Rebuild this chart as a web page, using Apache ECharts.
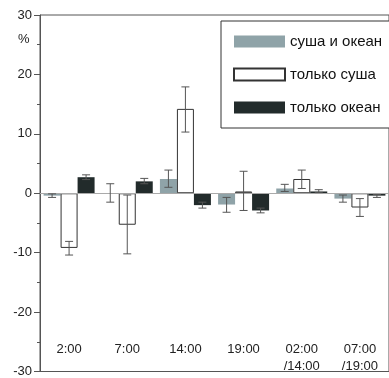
<!DOCTYPE html>
<html>
<head>
    <meta charset="utf-8">
    <title>ECharts</title>
    <style>
        body { margin: 0; background: #fff; }
    </style>
</head>
<body>
<div id="main" style="width: 389px;height:378px;"></div>
<script src="https://cdn.jsdelivr.net/npm/echarts@6/dist/echarts.min.js"></script>
<script type="text/javascript">
    // подписи по оси X
    var categories = ['2:00', '7:00', '14:00', '19:00', '02:00\n/14:00', '07:00\n/19:00'];
    var seriesNames = ['суша и океан', 'только суша', 'только океан'];

    // значения столбцов, %
    var landOcean = [-0.4, 0.0, 2.4, -1.9, 0.8, -0.9];
    var landOnly = [-9.2, -5.3, 14.2, 0.3, 2.4, -2.4];
    var oceanOnly = [2.7, 2.0, -2.0, -2.9, 0.3, -0.4];

    // границы погрешностей (низ / верх)
    var landOceanLow = [-0.7, -1.5, 1.0, -3.2, 0.3, -1.5];
    var landOceanHigh = [-0.1, 1.6, 3.9, -0.7, 1.5, -0.3];
    var landOnlyLow = [-10.4, -10.2, 10.3, -2.9, 0.8, -3.9];
    var landOnlyHigh = [-8.1, -0.3, 17.9, 3.7, 3.9, -0.9];
    var oceanOnlyLow = [2.3, 1.6, -2.5, -3.3, 0.1, -0.7];
    var oceanOnlyHigh = [3.1, 2.5, -1.5, -2.5, 0.6, -0.2];

    var barW = 17;
    var errColor = '#555';

    function errorSeries(lo, hi, offset) {
        return {
            type: 'custom',
            z: 10,
            silent: true,
            encode: {x: 0, y: [1, 2]},
            data: lo.map(function (v, i) { return [i, v, hi[i]]; }),
            renderItem: function (params, api) {
                var x = api.coord([api.value(0), 0])[0] + offset * barW;
                var yLo = api.coord([api.value(0), api.value(1)])[1];
                var yHi = api.coord([api.value(0), api.value(2)])[1];
                var c = 4;
                var st = {stroke: errColor, lineWidth: 1};
                return {
                    type: 'group',
                    children: [
                        {type: 'line', shape: {x1: x, y1: yHi, x2: x, y2: yLo}, style: st},
                        {type: 'line', shape: {x1: x - c, y1: yHi, x2: x + c, y2: yHi}, style: st},
                        {type: 'line', shape: {x1: x - c, y1: yLo, x2: x + c, y2: yLo}, style: st}
                    ]
                };
            }
        };
    }

    var myChart = echarts.init(document.getElementById('main'));
    myChart.setOption({
        animation: false,
        textStyle: {fontFamily: 'Liberation Sans, Arial, sans-serif'},
        grid: {
            left: 40, top: 15, bottom: 4, right: -11,
            show: true, borderColor: '#555', borderWidth: 1
        },
        graphic: [{
            type: 'text', left: 18, top: 33,
            style: {text: '%', font: '13px Liberation Sans, Arial', fill: '#222'}
        }],
        legend: {
            data: seriesNames,
            orient: 'vertical',
            left: 221, top: 21,
            icon: 'rect',
            itemWidth: 51, itemHeight: 12, itemGap: 18,
            padding: [13, 60, 13, 12],
            borderColor: '#333', borderWidth: 1,
            backgroundColor: '#fff',
            textStyle: {fontSize: 15, color: '#111'}
        },
        xAxis: {
            type: 'category',
            data: categories,
            axisLine: {show: false},
            axisTick: {show: false},
            axisLabel: {
                margin: -31,
                verticalAlign: 'top',
                fontSize: 13, lineHeight: 17, color: '#222'
            }
        },
        yAxis: {
            type: 'value',
            min: -30, max: 30, interval: 10,
            axisLine: {show: true, lineStyle: {color: '#555'}},
            axisTick: {show: true, length: 6, lineStyle: {color: '#555'}},
            minorTick: {show: true, splitNumber: 2, length: 3, lineStyle: {color: '#555'}},
            splitLine: {show: false},
            axisLabel: {fontSize: 13, color: '#222', margin: 8}
        },
        series: [
            {
                name: seriesNames[0], type: 'bar', data: landOcean,
                barWidth: barW, barGap: '0%',
                itemStyle: {color: '#8fa3a8'},
                markLine: {
                    silent: true, symbol: 'none',
                    label: {show: false},
                    lineStyle: {color: '#aaa', type: 'solid', width: 1},
                    data: [{yAxis: 0}]
                }
            },
            {
                name: seriesNames[1], type: 'bar', data: landOnly,
                barWidth: barW, barGap: '0%',
                itemStyle: {color: '#fff', borderColor: '#333', borderWidth: 1}
            },
            {
                name: seriesNames[2], type: 'bar', data: oceanOnly,
                barWidth: barW, barGap: '0%',
                itemStyle: {color: '#222b2b'}
            },
            errorSeries(landOceanLow, landOceanHigh, -1),
            errorSeries(landOnlyLow, landOnlyHigh, 0),
            errorSeries(oceanOnlyLow, oceanOnlyHigh, 1)
        ]
    });
</script>
</body>
</html>
